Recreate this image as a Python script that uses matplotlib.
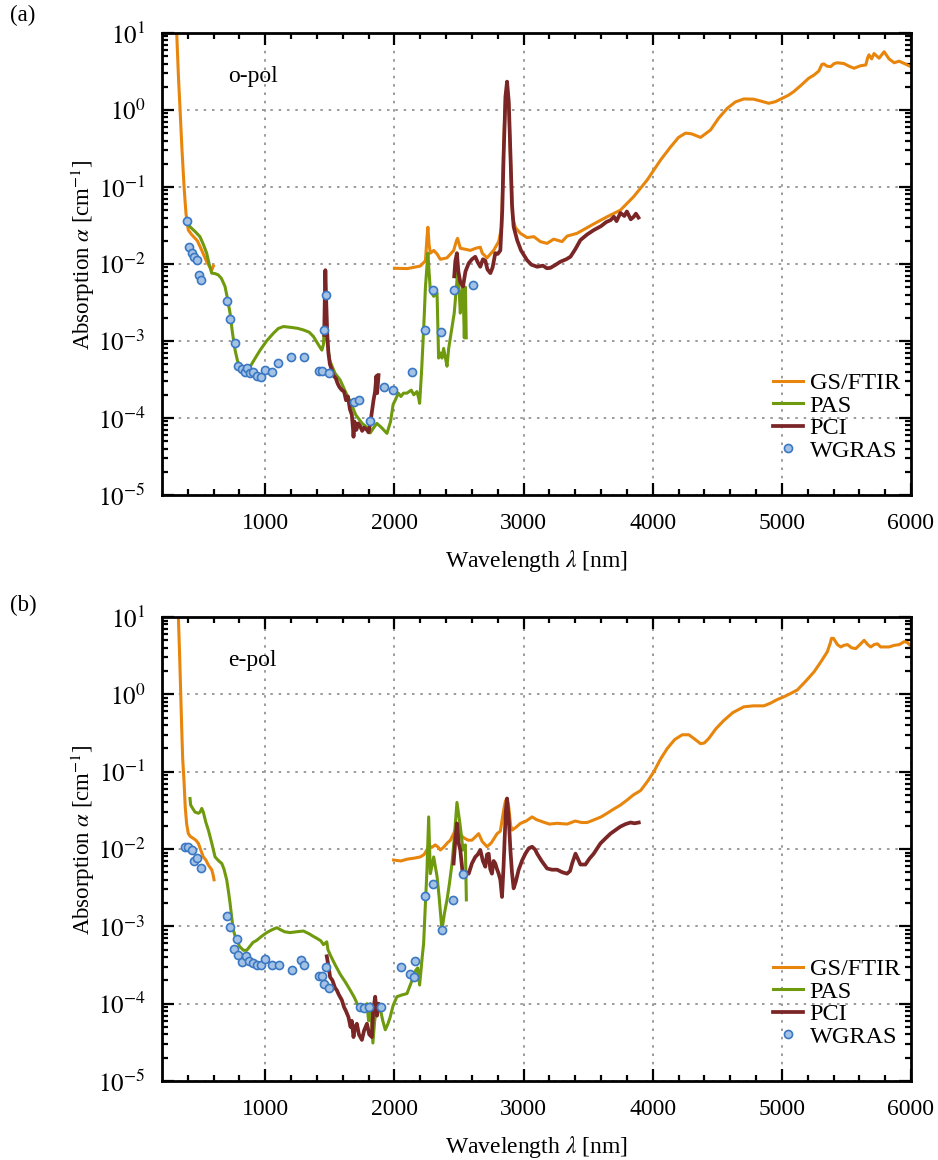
import numpy as np
import matplotlib
matplotlib.use('Agg')
import matplotlib.pyplot as plt
from matplotlib.ticker import FixedLocator, FuncFormatter, NullFormatter

plt.rcParams['font.family'] = ['Liberation Serif', 'DejaVu Serif']
plt.rcParams['mathtext.fontset'] = 'stix'

# ---------------- (a) o-pol ----------------
ftir_o_uv_x = [305, 314, 327, 340, 355, 371, 378, 386, 395, 404, 430, 474, 508, 546, 585, 598]
ftir_o_uv_y = [20, 10, 2.8, 1.0, 0.3, 0.1, 0.068, 0.045, 0.034, 0.0275, 0.024, 0.020, 0.015, 0.0107, 0.0083, 0.0094]

ftir_o_ir_x = [2000, 2100, 2200, 2240, 2252, 2259, 2268, 2278, 2304, 2330, 2355, 2407, 2459, 2480, 2489,
               2510, 2550, 2588, 2630, 2665, 2680, 2717, 2768, 2807, 2830, 2845, 2860, 2872, 2885, 2900,
               2915, 2937, 2975, 3027, 3080, 3130, 3182, 3233, 3298, 3337, 3414, 3492, 3570, 3647, 3750,
               3853, 3957, 4061, 4138, 4200, 4254, 4300, 4371, 4448, 4510, 4577, 4640, 4706, 4781, 4840,
               4898, 4950, 5004, 5050, 5092, 5150, 5208, 5250, 5286, 5310, 5325, 5350, 5378, 5405, 5430,
               5481, 5520, 5559, 5610, 5650, 5665, 5675, 5695, 5714, 5753, 5792, 5830, 5870, 5908, 5950, 5999]
ftir_o_ir_y = [0.0088, 0.0087, 0.0094, 0.011, 0.022, 0.030, 0.018, 0.0138, 0.015, 0.0135, 0.0115, 0.012,
               0.015, 0.020, 0.0215, 0.016, 0.0155, 0.015, 0.016, 0.0165, 0.0138, 0.012, 0.015, 0.0195,
               0.03, 0.3, 1.6, 1.9, 1.2, 0.2, 0.04, 0.0296, 0.025, 0.022, 0.0226, 0.0195, 0.0185, 0.021,
               0.0195, 0.023, 0.025, 0.0296, 0.035, 0.041, 0.050, 0.075, 0.123, 0.224, 0.33, 0.44, 0.50,
               0.49, 0.44, 0.55, 0.78, 1.05, 1.27, 1.39, 1.38, 1.30, 1.22, 1.28, 1.42, 1.55, 1.73, 2.1,
               2.58, 2.85, 3.2, 3.9, 3.96, 3.7, 3.65, 4.0, 4.1, 4.0, 3.7, 3.48, 3.75, 3.84, 4.8, 5.2, 4.6,
               5.4, 4.7, 5.7, 4.6, 4.1, 4.3, 4.0, 3.65]

pas_o_x = [404, 430, 460, 494, 520, 546, 565, 585, 610, 636, 660, 688, 705, 727, 745, 766, 785, 805, 840,
           869, 900, 930, 960, 1010, 1063, 1100, 1140, 1200, 1250, 1295, 1340, 1373, 1410, 1438, 1450,
           1456, 1462, 1470, 1500, 1540, 1580, 1620, 1660, 1700, 1750, 1790, 1813, 1840, 1864, 1900, 1942,
           1970, 1990, 2006, 2030, 2050, 2070, 2097, 2130, 2150, 2174, 2188, 2195, 2210, 2226, 2240, 2259,
           2268, 2278, 2304, 2330, 2342, 2355, 2368, 2381, 2395, 2407, 2420, 2433, 2463, 2489, 2500, 2510,
           2520, 2531, 2541, 2550, 2556]
pas_o_y = [0.032, 0.029, 0.026, 0.0226, 0.018, 0.0138, 0.010, 0.0076, 0.0075, 0.0072, 0.0065, 0.0051,
           0.0037, 0.0023, 0.0013, 0.00076, 0.00055, 0.00047, 0.00044, 0.00042, 0.00052, 0.00063, 0.00076,
           0.00100, 0.00126, 0.00145, 0.00154, 0.0015, 0.00146, 0.00139, 0.0013, 0.00114, 0.0009, 0.00076,
           0.0009, 0.0014, 0.002, 0.0012, 0.00055, 0.00038, 0.00031, 0.00022, 0.00016, 0.00011, 8.5e-5,
           7.5e-5, 6.4e-5, 7.5e-5, 8.5e-5, 7.5e-5, 6.3e-5, 9e-5, 1.5e-4, 1.7e-4, 2.1e-4, 1.9e-4, 2.1e-4,
           2.1e-4, 2.3e-4, 2.0e-4, 2.2e-4, 1.8e-4, 1.55e-4, 4e-4, 0.0014, 0.005, 0.0138, 0.008, 0.0045,
           0.0038, 0.0042, 0.0006, 0.0007, 0.0006, 0.0008, 0.0006, 0.00047, 0.0008, 0.0011, 0.0023,
           0.0076, 0.005, 0.0023, 0.004, 0.0051, 0.0011, 0.005, 0.0011]

pci_o_x1 = [1456, 1460, 1465, 1470, 1480, 1489, 1500, 1515, 1530, 1545, 1560, 1575, 1593, 1610, 1625,
            1640, 1655, 1670, 1680, 1683, 1690, 1705, 1720, 1735, 1750, 1765, 1787, 1800, 1815, 1838,
            1850, 1860, 1866, 1877]
pci_o_y1 = [0.0012, 0.003, 0.0083, 0.004, 0.0012, 0.00069, 0.0005, 0.00042, 0.00035, 0.00033, 0.00028,
            0.00025, 0.00023, 0.00022, 0.00017, 0.00019, 0.00013, 0.00011, 7e-5, 5.7e-5, 9e-5, 7e-5,
            8.5e-5, 7.8e-5, 6.8e-5, 7.5e-5, 7e-5, 6.5e-5, 9e-5, 1.7e-4, 2.2e-4, 3.5e-4, 2.1e-4, 3.6e-4]
pci_o_x2 = [2463, 2472, 2484, 2495, 2510, 2531, 2550, 2575, 2600, 2626, 2645, 2665, 2685, 2704, 2720,
            2743, 2760, 2781, 2800, 2820, 2835, 2846, 2860, 2872, 2885, 2898, 2910, 2923, 2950, 2980,
            3027, 3060, 3105, 3150, 3180, 3208, 3250, 3285, 3330, 3363, 3400, 3440, 3490, 3543, 3600,
            3640, 3673, 3700, 3720, 3750, 3780, 3800, 3830, 3853, 3870, 3890]
pci_o_y2 = [0.0069, 0.011, 0.0138, 0.008, 0.0058, 0.0051, 0.008, 0.0102, 0.0115, 0.0124, 0.0105, 0.0092,
            0.0115, 0.011, 0.0085, 0.0076, 0.009, 0.0138, 0.0135, 0.015, 0.05, 0.275, 1.5, 2.33, 1.3,
            0.275, 0.06, 0.0305, 0.0204, 0.015, 0.0112, 0.0098, 0.0092, 0.0095, 0.0088, 0.0089, 0.0098,
            0.0107, 0.0115, 0.0124, 0.0155, 0.0204, 0.024, 0.0275, 0.031, 0.035, 0.037, 0.041, 0.036,
            0.046, 0.042, 0.048, 0.038, 0.041, 0.045, 0.040]

wgras_o_x = [391, 412, 430, 450, 469, 489, 500, 701, 727, 763, 792, 818, 843, 861, 882, 908, 939, 970,
             1001, 1053, 1102, 1202, 1301, 1415, 1440, 1456, 1471, 1492, 1688, 1727, 1812, 1916, 1986,
             2135, 2233, 2298, 2363, 2458, 2606]
wgras_o_y = [0.036, 0.0168, 0.0138, 0.0122, 0.0113, 0.0071, 0.0061, 0.0033, 0.0019, 0.00093, 0.00048,
             0.00043, 0.00040, 0.00045, 0.00038, 0.00040, 0.00035, 0.00034, 0.00042, 0.00039, 0.00051,
             0.00062, 0.00061, 0.00041, 0.00041, 0.00139, 0.0039, 0.00038, 0.00016, 0.00017, 9.2e-5,
             0.00025, 0.00023, 0.00039, 0.00139, 0.0046, 0.00129, 0.0046, 0.0054]

# ---------------- (b) e-pol ----------------
ftir_e_uv_x = [310, 327, 337, 345, 353, 360, 370, 380, 391, 404, 420, 443, 462, 482, 500, 520, 540, 559,
               585, 595, 603]
ftir_e_uv_y = [20, 10, 3, 1.03, 0.35, 0.15, 0.078, 0.035, 0.021, 0.0158, 0.0145, 0.0137, 0.013, 0.0118,
               0.0097, 0.0079, 0.0072, 0.0062, 0.0054, 0.0047, 0.0040]

ftir_e_ir_x = [1993, 2050, 2100, 2150, 2200, 2230, 2250, 2270, 2290, 2316, 2340, 2355, 2380, 2410, 2433,
               2460, 2484, 2500, 2536, 2570, 2600, 2630, 2652, 2680, 2717, 2750, 2795, 2820, 2846, 2860,
               2872, 2885, 2900, 2911, 2940, 2975, 3020, 3066, 3100, 3156, 3200, 3260, 3337, 3400, 3450,
               3492, 3550, 3600, 3647, 3700, 3750, 3802, 3850, 3906, 3960, 4009, 4060, 4113, 4170, 4229,
               4280, 4330, 4371, 4400, 4435, 4490, 4551, 4620, 4706, 4780, 4861, 4913, 4960, 5016, 5070,
               5120, 5180, 5249, 5300, 5352, 5375, 5384, 5400, 5430, 5456, 5480, 5508, 5540, 5572, 5605,
               5637, 5665, 5688, 5715, 5740, 5765, 5791, 5830, 5870, 5910, 5947, 5970, 5995]
ftir_e_ir_y = [0.0072, 0.0070, 0.0074, 0.0076, 0.0079, 0.0085, 0.0097, 0.0110, 0.0105, 0.0113, 0.0105,
               0.0097, 0.0105, 0.012, 0.013, 0.016, 0.0195, 0.016, 0.014, 0.013, 0.013, 0.0145, 0.0158,
               0.0125, 0.0107, 0.012, 0.0158, 0.017, 0.032, 0.042, 0.045, 0.035, 0.02, 0.0176, 0.019,
               0.0214, 0.023, 0.026, 0.024, 0.0222, 0.021, 0.0215, 0.021, 0.023, 0.022, 0.022, 0.024,
               0.026, 0.029, 0.033, 0.037, 0.043, 0.05, 0.057, 0.075, 0.10, 0.145, 0.20, 0.26, 0.30, 0.30,
               0.26, 0.23, 0.235, 0.27, 0.36, 0.46, 0.58, 0.69, 0.71, 0.71, 0.77, 0.85, 0.93, 1.03, 1.14,
               1.45, 1.95, 2.6, 3.55, 4.6, 5.3, 5.3, 4.4, 4.1, 4.3, 4.4, 4.0, 3.9, 4.4, 5.0, 4.4, 4.1, 4.4,
               4.5, 4.1, 4.1, 4.1, 4.3, 4.4, 4.8, 4.7, 4.3]

pas_e_x = [417, 422, 440, 456, 482, 495, 508, 520, 540, 559, 585, 611, 640, 663, 680, 701, 715, 727, 740,
           753, 766, 779, 800, 831, 856, 880, 905, 934, 970, 1011, 1050, 1089, 1120, 1150, 1192, 1240,
           1295, 1340, 1373, 1399, 1430, 1450, 1476, 1485, 1502, 1540, 1580, 1620, 1657, 1690, 1722,
           1760, 1787, 1800, 1815, 1833, 1847, 1860, 1890, 1910, 1929, 1950, 1967, 1990, 2019, 2060,
           2097, 2120, 2148, 2165, 2180, 2195, 2215, 2226, 2240, 2252, 2265, 2278, 2290, 2304, 2330,
           2345, 2368, 2385, 2407, 2425, 2446, 2465, 2484, 2500, 2510, 2531, 2549, 2557]
pas_e_y = [0.045, 0.037, 0.033, 0.030, 0.029, 0.030, 0.0335, 0.030, 0.022, 0.0176, 0.012, 0.0079, 0.0070,
           0.0065, 0.0055, 0.0040, 0.0028, 0.0020, 0.0013, 0.00089, 0.00075, 0.00068, 0.00055, 0.00049,
           0.00049, 0.00055, 0.00062, 0.00066, 0.00074, 0.00083, 0.0009, 0.00096, 0.0009, 0.00085,
           0.00083, 0.00085, 0.00087, 0.0008, 0.00074, 0.0007, 0.00065, 0.00058, 0.00063, 0.0005, 0.00043,
           0.00032, 0.00024, 0.00019, 0.00015, 0.00012, 9.1e-5, 9e-5, 1e-4, 6e-5, 1.0e-4, 3.1e-5, 6e-5,
           8.3e-5, 8.5e-5, 6e-5, 4.6e-5, 5.5e-5, 6.7e-5, 9.5e-5, 1.23e-4, 1.3e-4, 1.35e-4, 1.7e-4,
           2.24e-4, 2.7e-4, 2.9e-4, 1.74e-4, 4e-4, 6e-4, 0.002, 0.0054, 0.026, 0.0048, 0.006, 0.0079,
           0.0044, 0.0025, 0.00089, 0.0014, 0.0022, 0.0035, 0.0065, 0.015, 0.040, 0.026, 0.0195, 0.0097,
           0.0113, 0.0022]

pci_e_x1 = [1476, 1490, 1502, 1520, 1540, 1554, 1570, 1593, 1610, 1625, 1644, 1660, 1670, 1683, 1695,
            1709, 1725, 1748, 1765, 1787, 1805, 1825, 1835, 1851, 1865, 1878, 1890]
pci_e_y1 = [0.00041, 0.0003, 0.00022, 0.0002, 0.00016, 0.000149, 0.00013, 0.000111, 9e-5, 8e-5, 6.7e-5,
            5e-5, 6e-5, 3.7e-5, 5e-5, 5.5e-5, 4e-5, 3.4e-5, 4.5e-5, 5.5e-5, 4e-5, 3.7e-5, 8e-5, 1.23e-4,
            7e-5, 1e-4, 8.3e-5]
pci_e_x2 = [2458, 2470, 2484, 2497, 2510, 2531, 2550, 2575, 2600, 2626, 2645, 2665, 2685, 2704, 2717,
            2730, 2742, 2755, 2768, 2781, 2794, 2807, 2820, 2833, 2845, 2852, 2862, 2872, 2885, 2898,
            2910, 2923, 2940, 2962, 2990, 3014, 3040, 3066, 3090, 3105, 3140, 3182, 3220, 3260, 3300,
            3337, 3360, 3376, 3402, 3420, 3440, 3479, 3510, 3543, 3570, 3595, 3630, 3673, 3710, 3750,
            3790, 3828, 3860, 3892]
pci_e_y2 = [0.0065, 0.012, 0.0214, 0.012, 0.0097, 0.0044, 0.005, 0.0048, 0.0065, 0.0079, 0.0085, 0.0097,
            0.007, 0.0059, 0.0085, 0.0087, 0.0055, 0.0048, 0.007, 0.0065, 0.0055, 0.0048, 0.004, 0.0024,
            0.006, 0.0118, 0.03, 0.045, 0.025, 0.0097, 0.005, 0.0031, 0.0038, 0.0054, 0.0072, 0.0087,
            0.0102, 0.0107, 0.0098, 0.0087, 0.007, 0.0056, 0.0054, 0.0054, 0.005, 0.0048, 0.0052, 0.0065,
            0.0087, 0.0075, 0.0063, 0.0063, 0.0075, 0.0087, 0.0102, 0.0118, 0.0135, 0.0158, 0.0175,
            0.0195, 0.021, 0.022, 0.0215, 0.022]

wgras_e_x = [378, 404, 430, 450, 474, 500, 701, 727, 758, 779, 792, 818, 851, 877, 908, 939, 970, 1001,
             1053, 1105, 1205, 1280, 1301, 1415, 1440, 1456, 1471, 1492, 1735, 1768, 1805, 1898, 2050,
             2122, 2153, 2161, 2239, 2298, 2368, 2450, 2531]
wgras_e_y = [0.0107, 0.0107, 0.0096, 0.0071, 0.0076, 0.0056, 0.00135, 0.00099, 0.00051, 0.00068, 0.00042,
             0.00035, 0.00041, 0.00036, 0.00034, 0.00032, 0.00032, 0.00038, 0.00032, 0.00032, 0.00027,
             0.00037, 0.00032, 0.00023, 0.00023, 0.00018, 0.0003, 0.00016, 9.1e-5, 8.8e-5, 9.1e-5,
             9.1e-5, 0.000295, 0.000245, 0.00022, 0.00036, 0.0025, 0.0035, 0.00089, 0.0022, 0.0048]

x_major = [1000, 2000, 3000, 4000, 5000, 6000]
y_exponents = [-5, -4, -3, -2, -1, 0, 1]

c_ftir = '#E8850C'
c_pas = '#6F9A0E'
c_pci = '#7B2626'
c_face = '#A4C2E4'
c_edge = '#3B78C4'
lw = 2.2


def style_axis(ax):
    ax.set_yscale('log')
    ax.set_xlim(200, 6000)
    ax.set_ylim(1e-5, 10)
    ax.xaxis.set_major_locator(FixedLocator(x_major))
    ax.xaxis.set_minor_locator(FixedLocator(np.arange(400, 6000, 200)))
    y_major = [10.0 ** e for e in y_exponents]
    y_minor = [m * 10.0 ** e for e in y_exponents[:-1] for m in range(2, 10)]
    ax.yaxis.set_major_locator(FixedLocator(y_major))
    ax.yaxis.set_minor_locator(FixedLocator(y_minor))
    ax.yaxis.set_major_formatter(FuncFormatter(lambda v, p: r'$\mathrm{10^{%d}}$' % round(np.log10(v))))
    ax.yaxis.set_minor_formatter(NullFormatter())
    ax.xaxis.set_minor_formatter(NullFormatter())
    ax.tick_params(which='both', direction='in', top=True, right=True, width=1.6)
    ax.tick_params(which='major', length=8.5)
    ax.tick_params(which='minor', length=4.5)
    ax.tick_params(axis='x', which='major', labelsize=17, pad=13)
    ax.tick_params(axis='y', which='major', labelsize=18, pad=12)
    for s in ax.spines.values():
        s.set_linewidth(2.0)
    ax.grid(True, which='major', color='#8a8a8a', linestyle=(0, (1.5, 3.5)), linewidth=1.2)
    ax.set_axisbelow(True)
    ax.set_xlabel(r'Wavelength $\lambda$ [nm]', fontsize=17)
    ax.xaxis.set_label_coords(0.5, -0.115)
    ax.set_ylabel(r'Absorption $\alpha$ [cm$^{-1}$]', fontsize=16.5, va='center')
    ax.yaxis.set_label_coords(-0.105, 0.52)


def draw_panel(ax, uv_x, uv_y, ir_x, ir_y, pas_x, pas_y, pci_x1, pci_y1, pci_x2, pci_y2, w_x, w_y, pol):
    ax.plot(uv_x, uv_y, color=c_ftir, lw=lw, label='GS/FTIR')
    ax.plot(ir_x, ir_y, color=c_ftir, lw=lw)
    ax.plot(pas_x, pas_y, color=c_pas, lw=lw, label='PAS')
    ax.plot(pci_x1, pci_y1, color=c_pci, lw=2.7, label='PCI')
    ax.plot(pci_x2, pci_y2, color=c_pci, lw=2.7)
    ax.plot(w_x, w_y, 'o', ms=5.8, mfc=c_face, mec=c_edge, mew=1.2, label='WGRAS')
    ax.text(710, 2.7, pol, fontsize=17, ha='left', va='center')
    style_axis(ax)
    ax.legend(loc='lower right', bbox_to_anchor=(0.985, 0.072), frameon=False, fontsize=17.5,
              handlelength=1.25, handletextpad=0.25, labelspacing=0.02, borderaxespad=0, borderpad=0,
              numpoints=1)


fig = plt.figure(figsize=(9.38, 11.6), dpi=100)
ax1 = fig.add_axes([0.1727, 0.5733, 0.7985, 0.3983])
ax2 = fig.add_axes([0.1727, 0.0681, 0.7985, 0.4000])

draw_panel(ax1, ftir_o_uv_x, ftir_o_uv_y, ftir_o_ir_x, ftir_o_ir_y, pas_o_x, pas_o_y,
           pci_o_x1, pci_o_y1, pci_o_x2, pci_o_y2, wgras_o_x, wgras_o_y, 'o-pol')
draw_panel(ax2, ftir_e_uv_x, ftir_e_uv_y, ftir_e_ir_x, ftir_e_ir_y, pas_e_x, pas_e_y,
           pci_e_x1, pci_e_y1, pci_e_x2, pci_e_y2, wgras_e_x, wgras_e_y, 'e-pol')

fig.text(0.011, 0.987, '(a)', fontsize=16.5, va='center', ha='left')
fig.text(0.011, 0.4784, '(b)', fontsize=16.5, va='center', ha='left')

fig.savefig('out.png', dpi=100)
